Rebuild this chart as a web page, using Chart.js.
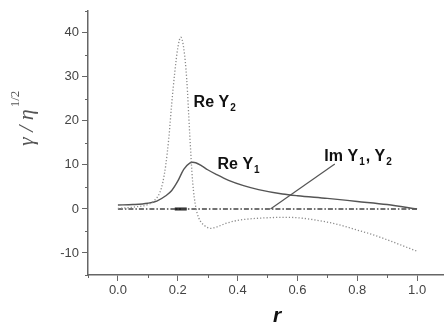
<!DOCTYPE html>
<html>
<head>
<meta charset="utf-8">
<script src="https://cdn.jsdelivr.net/npm/chart.js@4"></script>
<style>
  body { margin: 0; background: #fff; }
  #chart { display: block; }
</style>
</head>
<body>
<canvas id="chart" width="444" height="325"></canvas>
<script>
// Re Y1 (solid)
var reY1R = [0, 0.05, 0.1, 0.13, 0.16, 0.18, 0.2, 0.22, 0.24, 0.25, 0.26, 0.28, 0.3, 0.33, 0.37, 0.42, 0.47, 0.55, 0.6, 0.7, 0.8, 0.9, 1.0];
var reY1 = [0.9, 1.0, 1.3, 1.8, 3.0, 4.2, 6.3, 9.0, 10.4, 10.6, 10.5, 9.8, 8.9, 7.8, 6.5, 5.3, 4.4, 3.4, 3.0, 2.4, 1.7, 1.0, 0.0];

// Re Y2 (dotted)
var reY2R = [0, 0.05, 0.1, 0.12, 0.14, 0.15, 0.16, 0.17, 0.18, 0.19, 0.2, 0.21, 0.22, 0.23, 0.24, 0.25, 0.26, 0.27, 0.29, 0.31, 0.33, 0.36, 0.4, 0.45, 0.5, 0.55, 0.6, 0.65, 0.7, 0.75, 0.8, 0.85, 0.9, 0.95, 1.0];
var reY2 = [0.1, 0.4, 1.0, 1.8, 3.7, 6.0, 10.0, 16.0, 24.0, 31.0, 36.5, 39.0, 36.5, 29.5, 17.0, 6.0, 0.5, -2.0, -3.8, -4.4, -4.1, -3.3, -2.6, -2.2, -2.0, -1.9, -2.0, -2.4, -3.0, -3.8, -4.8, -5.8, -7.0, -8.3, -9.6];

// Im Y1, Y2 (zero line) and the small dark bump near r = 0.2
var imR = [0, 1.0];
var imY = [0, 0];
var imBumpR = [0.19, 0.23];
var imBumpY = [0, 0];

// pointer from the Im line to its label
var pointerR = [0.51, 0.725];
var pointerY = [0, 10.2];

// axis ticks
var xMajor = [0, 0.2, 0.4, 0.6, 0.8, 1.0];
var xMinor = [-0.1, 0.1, 0.3, 0.5, 0.7, 0.9];
var yMajor = [-10, 0, 10, 20, 30, 40];
var yMinor = [-15, -5, 5, 15, 25, 35, 45];

// curve labels: text, subscript(s), position in data units
var labelText = ['Re Y', 'Re Y', 'Im Y'];
var labelSub = [['2'], ['1'], ['1', ', Y', '2']];
var labelR = [0.253, 0.333, 0.69];
var labelY = [23.2, 9.0, 10.8];

function pts(xs, ys) {
    return xs.map(function(x, i){ return {x: x, y: ys[i]}; });
}

var axisColor = '#666';
var tickFont = {family: '"Liberation Sans", Arial, sans-serif', size: 13};

var extras = {
    id: 'extras',
    afterDraw: function(chart) {
        var ctx = chart.ctx;
        var xs = chart.scales.x, ys = chart.scales.y;
        var area = chart.chartArea;
        ctx.save();
        // minor ticks
        ctx.strokeStyle = axisColor;
        ctx.lineWidth = 1;
        ctx.beginPath();
        xMinor.forEach(function(v){
            var px = Math.round(xs.getPixelForValue(v)) + 0.5;
            ctx.moveTo(px, area.bottom);
            ctx.lineTo(px, area.bottom + 3);
        });
        yMinor.forEach(function(v){
            var py = Math.round(ys.getPixelForValue(v)) + 0.5;
            ctx.moveTo(area.left, py);
            ctx.lineTo(area.left - 3, py);
        });
        ctx.stroke();

        // curve labels
        ctx.fillStyle = '#111';
        ctx.textBaseline = 'alphabetic';
        labelText.forEach(function(t, i){
            var px = xs.getPixelForValue(labelR[i]);
            var py = ys.getPixelForValue(labelY[i]);
            ctx.font = 'bold 16px "Liberation Sans", Arial, sans-serif';
            ctx.fillText(t, px, py);
            px += ctx.measureText(t).width + 1;
            labelSub[i].forEach(function(s){
                if (s.charAt(0) === ',') {
                    ctx.font = 'bold 16px "Liberation Sans", Arial, sans-serif';
                    ctx.fillText(s, px, py);
                } else {
                    ctx.font = 'bold 10px "Liberation Sans", Arial, sans-serif';
                    ctx.fillText(s, px, py + 4);
                }
                px += ctx.measureText(s).width + 1;
            });
        });

        // x axis title
        ctx.fillStyle = '#111';
        ctx.font = 'italic bold 21px "Liberation Sans", Arial, sans-serif';
        ctx.textAlign = 'center';
        ctx.fillText('r', 277, 322);

        // y axis title
        ctx.translate(33, 146);
        ctx.rotate(-Math.PI / 2);
        ctx.textAlign = 'left';
        ctx.fillStyle = '#555';
        ctx.font = 'italic 22px "Liberation Serif", "Times New Roman", serif';
        var main = '\u03B3 / \u03B7';
        ctx.fillText(main, 0, 0);
        var w = ctx.measureText(main).width;
        ctx.font = '13px "Liberation Serif", "Times New Roman", serif';
        ctx.fillText('1/2', w + 2, -14);
        ctx.restore();
    }
};

var ctx = document.getElementById('chart').getContext('2d');
var chart = new Chart(ctx, {
    type: 'line',
    data: {
        datasets: [{
            label: 'Re Y2',
            data: pts(reY2R, reY2),
            borderColor: '#8a8a8a',
            borderWidth: 1.3,
            borderDash: [1.2, 2],
            pointRadius: 0,
            cubicInterpolationMode: 'monotone'
        }, {
            label: 'Re Y1',
            data: pts(reY1R, reY1),
            borderColor: '#555',
            borderWidth: 1.4,
            pointRadius: 0,
            cubicInterpolationMode: 'monotone'
        }, {
            label: 'Im Y1, Y2',
            data: pts(imR, imY),
            borderColor: '#444',
            borderWidth: 1.4,
            borderDash: [5, 2, 1.5, 2],
            pointRadius: 0
        }, {
            label: 'Im bump',
            data: pts(imBumpR, imBumpY),
            borderColor: '#222',
            borderWidth: 3,
            pointRadius: 0
        }, {
            label: 'pointer',
            data: pts(pointerR, pointerY),
            borderColor: '#555',
            borderWidth: 1.2,
            pointRadius: 0
        }]
    },
    options: {
        responsive: false,
        animation: false,
        layout: { padding: { top: 7, right: 0, left: 0, bottom: 0 } },
        plugins: {
            legend: { display: false },
            tooltip: { enabled: false }
        },
        scales: {
            x: {
                type: 'linear',
                min: -0.1,
                max: 1.09,
                afterBuildTicks: function(s){ s.ticks = xMajor.map(function(v){ return {value: v}; }); },
                afterFit: function(s){ s.height = 50; },
                ticks: {
                    color: '#444',
                    font: tickFont,
                    padding: 2,
                    maxRotation: 0,
                    callback: function(v){ return Number(v).toFixed(1); }
                },
                grid: { drawOnChartArea: false, drawTicks: true, tickLength: 6, color: axisColor },
                border: { color: axisColor, width: 1.5 }
            },
            y: {
                min: -15,
                max: 45,
                afterBuildTicks: function(s){ s.ticks = yMajor.map(function(v){ return {value: v}; }); },
                afterFit: function(s){ s.width = 88; },
                ticks: {
                    color: '#444',
                    font: tickFont,
                    padding: 3
                },
                grid: { drawOnChartArea: false, drawTicks: true, tickLength: 6, color: axisColor },
                border: { color: axisColor, width: 1.5 }
            }
        }
    },
    plugins: [extras]
});
</script>
</body>
</html>
